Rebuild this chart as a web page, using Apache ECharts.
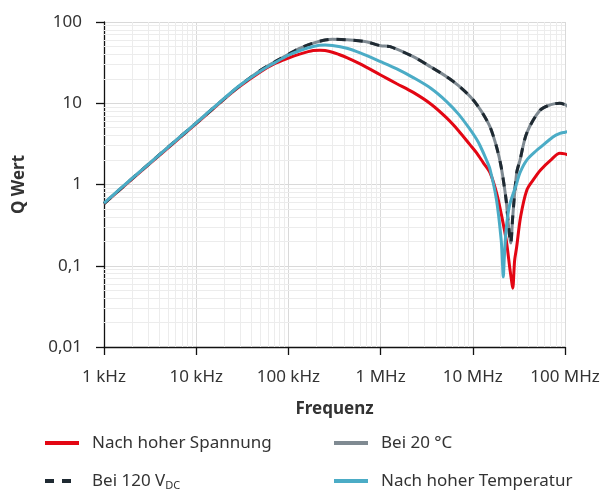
<!DOCTYPE html>
<html>
<head>
<meta charset="utf-8">
<script src="https://cdn.jsdelivr.net/npm/echarts@6/dist/echarts.min.js"></script>
<style>
  html, body { margin: 0; padding: 0; background: #fff; }
  #chart { width: 611px; height: 490px; }
</style>
</head>
<body>
<div id="chart"></div>
<script>
// Werte (Frequenz in Hz, Q-Wert)
var xTickLabels = ["1 kHz", "10 kHz", "100 kHz", "1 MHz", "10 MHz", "100 MHz"];
var yTickLabels = ["0,01", "0,1", "1", "10", "100"];
var seriesNames = ["Nach hoher Spannung", "Bei 120 VDC", "Bei 20 °C", "Nach hoher Temperatur"];

var freqRed = [1e3, 2e3, 5e3, 1e4, 2e4, 3e4, 5e4, 7e4, 1e5, 1.3e5, 1.86e5, 2.2e5, 2.5e5, 3e5, 3.5e5, 4.3e5, 6e5, 1e6, 1.5e6, 2.26e6, 3.5e6, 5.2e6, 7e6, 9.3e6, 1.1e7, 1.3e7, 1.54e7, 1.81e7, 2.03e7, 2.3e7, 2.53e7, 2.62e7, 2.71e7, 2.84e7, 2.99e7, 3.3e7, 3.85e7, 4.5e7, 5.4e7, 7e7, 8.8e7, 1e8, 1.1e8, 1.18e8];
var qRed = [0.58, 1.16, 2.85, 5.6, 11.2, 16.3, 24.5, 30.5, 36, 40, 44.6, 45, 44.5, 42.5, 40, 36.5, 30.5, 22.3, 17.4, 13.6, 9.8, 6.6, 4.6, 3.1, 2.45, 1.85, 1.39, 0.79, 0.44, 0.21, 0.09, 0.068, 0.053, 0.115, 0.17, 0.4, 0.85, 1.13, 1.5, 2.0, 2.42, 2.38, 2.3, 2.42];

var freqGray = [1e3, 2e3, 5e3, 1e4, 2e4, 3e4, 5e4, 7e4, 1e5, 1.3e5, 1.86e5, 2.5e5, 3e5, 4.3e5, 7e5, 1e6, 1.27e6, 2.26e6, 3.5e6, 5.2e6, 7e6, 9.3e6, 1.1e7, 1.3e7, 1.54e7, 1.81e7, 2.03e7, 2.3e7, 2.42e7, 2.58e7, 2.71e7, 2.99e7, 3.25e7, 3.85e7, 5.36e7, 7e7, 8.8e7, 1e8, 1.08e8, 1.13e8, 1.18e8];
var qGray = [0.58, 1.17, 2.9, 5.7, 11.3, 16.6, 25.5, 32, 40, 47, 55, 60, 61.5, 60.5, 57, 51, 49.7, 37.4, 28, 21.2, 16.5, 12.2, 9.7, 7.3, 5.1, 2.9, 1.65, 0.64, 0.34, 0.19, 0.4, 1.39, 2.0, 4.3, 8.2, 9.6, 10, 9.6, 9.0, 7.6, 6.8];

var freqBlue = [1e3, 2e3, 5e3, 1e4, 2e4, 3e4, 5e4, 7e4, 1e5, 1.3e5, 1.86e5, 2.5e5, 3e5, 4.3e5, 6e5, 1e6, 1.5e6, 2.26e6, 3.5e6, 5.2e6, 7e6, 9.3e6, 1.1e7, 1.2e7, 1.4e7, 1.54e7, 1.81e7, 2.03e7, 2.09e7, 2.14e7, 2.2e7, 2.3e7, 2.5e7, 2.99e7, 3.25e7, 3.85e7, 4.97e7, 5.36e7, 7.4e7, 8.8e7, 1e8, 1.18e8];
var qBlue = [0.59, 1.18, 2.9, 5.75, 11.4, 16.8, 25, 31.2, 39, 44, 50, 52, 51.5, 47.5, 41.6, 32.5, 26.5, 20.7, 15.3, 10.5, 7.35, 4.8, 3.6, 3.0, 2.03, 1.53, 0.64, 0.21, 0.12, 0.073, 0.13, 0.28, 0.55, 1.03, 1.4, 2.0, 2.66, 2.85, 3.85, 4.25, 4.4, 4.6];

function pairs(fs, qs) {
  return fs.map(function (f, i) { return [f, qs[i]]; });
}

// feines logarithmisches Raster (2..9 je Dekade)
var minorLines = [];
for (var n = 3; n < 8; n++) {
  for (var k = 2; k < 10; k++) minorLines.push({ xAxis: k * Math.pow(10, n) });
}
for (var m = -2; m < 2; m++) {
  for (var j = 2; j < 10; j++) minorLines.push({ yAxis: j * Math.pow(10, m) });
}

var font = "Noto Sans";
var textColor = "#333";

var chart = echarts.init(document.getElementById("chart"));

var legendText = {
  fontFamily: font,
  fontSize: 17,
  lineHeight: 22,
  color: textColor,
  padding: [0, 0, 0, 8],
  rich: {
    sub: { fontFamily: font, fontSize: 11, color: textColor, lineHeight: 22, padding: [10, 0, 0, 0] }
  }
};
function legendFormatter(name) {
  return name === "Bei 120 VDC" ? "Bei 120 V{sub|DC}" : name;
}
function makeLegend(names, left) {
  return {
    data: names,
    orient: "vertical",
    left: left,
    top: 432,
    height: 62,
    padding: 0,
    itemWidth: 34,
    itemHeight: 14,
    itemGap: 16,
    textStyle: legendText,
    formatter: legendFormatter,
    itemStyle: { opacity: 0 },
    lineStyle: { width: 4 },
    selectedMode: false
  };
}

chart.setOption({
  animation: false,
  backgroundColor: "#fff",
  grid: { left: 104, right: 46, top: 22, bottom: 143 },
  legend: [
    makeLegend([seriesNames[0], seriesNames[1]], 43),
    makeLegend([seriesNames[2], seriesNames[3]], 332)
  ],
  xAxis: {
    type: "log",
    logBase: 10,
    min: 1e3,
    max: 1e8,
    name: "Frequenz",
    nameLocation: "middle",
    nameGap: 54,
    nameTextStyle: { fontFamily: font, fontSize: 17, fontWeight: "bold", color: textColor },
    axisLine: { lineStyle: { color: "#111", width: 1.3 } },
    axisTick: { show: true, length: 8, lineStyle: { color: "#111", width: 1.3 } },
    axisLabel: {
      margin: 22,
      fontFamily: font,
      fontSize: 17,
      color: textColor,
      showMinLabel: true,
      showMaxLabel: true,
      formatter: function (v) {
        return xTickLabels[Math.round(Math.log10(v)) - 3];
      }
    },
    splitLine: { show: true, lineStyle: { color: "#d9d9d9", width: 1 } }
  },
  yAxis: {
    type: "log",
    logBase: 10,
    min: 0.01,
    max: 100,
    name: "Q Wert",
    nameLocation: "middle",
    nameGap: 76,
    nameRotate: 90,
    nameTextStyle: { fontFamily: font, fontSize: 17, fontWeight: "bold", color: textColor },
    axisLine: { show: true, lineStyle: { color: "#111", width: 1.3 } },
    axisTick: { show: true, length: 8, lineStyle: { color: "#111", width: 1.3 } },
    axisLabel: {
      margin: 22,
      fontFamily: font,
      fontSize: 17,
      color: textColor,
      formatter: function (v) {
        return yTickLabels[Math.round(Math.log10(v)) + 2];
      }
    },
    splitLine: { show: true, lineStyle: { color: "#d9d9d9", width: 1 } }
  },
  series: [
    {
      type: "line",
      data: [],
      silent: true,
      z: 1,
      markLine: {
        silent: true,
        z: 1,
        symbol: "none",
        label: { show: false },
        lineStyle: { color: "#ececec", width: 1, type: "solid" },
        emphasis: { disabled: true },
        data: minorLines
      }
    },
    {
      name: seriesNames[0],
      type: "line",
      data: pairs(freqRed, qRed),
      symbol: "none",
      smooth: 0.3,
      clip: false,
      lineStyle: { color: "#e30613", width: 3 },
      itemStyle: { color: "#e30613" }
    },
    {
      name: seriesNames[2],
      type: "line",
      data: pairs(freqGray, qGray),
      symbol: "none",
      smooth: 0.3,
      clip: false,
      lineStyle: { color: "#7f8a92", width: 3 },
      itemStyle: { color: "#7f8a92" }
    },
    {
      name: seriesNames[1],
      type: "line",
      data: pairs(freqGray, qGray),
      symbol: "none",
      smooth: 0.3,
      clip: false,
      lineStyle: { color: "#1f2a32", width: 3, type: [9, 8] },
      itemStyle: { color: "#1f2a32" }
    },
    {
      name: seriesNames[3],
      type: "line",
      data: pairs(freqBlue, qBlue),
      symbol: "none",
      smooth: 0.3,
      clip: false,
      lineStyle: { color: "#4bacc6", width: 3 },
      itemStyle: { color: "#4bacc6" }
    }
  ]
});
</script>
</body>
</html>
